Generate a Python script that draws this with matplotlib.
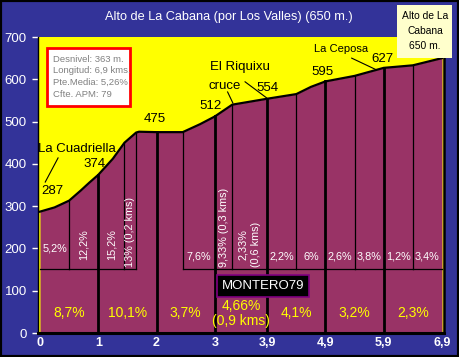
import numpy as np
import matplotlib.pyplot as plt
from matplotlib.patches import Rectangle

plt.rcParams['font.family'] = ['Liberation Sans', 'DejaVu Sans']

W, H = 459, 357

# perfil (km, m)
dist = [0, 0.25, 0.5, 0.7, 0.85, 1.0, 1.25, 1.45, 1.65, 1.7, 2.0, 2.45, 2.75, 3.0,
        3.3, 3.9, 4.4, 4.65, 4.9, 5.4, 5.9, 6.4, 6.9]
elev = [287, 297, 313, 337, 356, 374, 412, 450, 474, 476, 475, 475, 494, 512,
        540, 554, 565, 582, 595, 608, 627, 633, 650]

km_ticks = [0, 1, 2, 3, 3.9, 4.9, 5.9, 6.9]
km_labels = ['0', '1', '2', '3', '3,9', '4,9', '5,9', '6,9']

# pendiente media de cada km
tramo_pct = ['8,7%', '10,1%', '3,7%', '4,66%\n(0,9 kms)', '4,1%', '3,2%', '2,3%']

# subtramos
sub_edges = [0, 0.5, 1, 1.45, 1.65, 2, 2.45, 3, 3.3, 3.9, 4.4, 4.9, 5.4, 5.9, 6.4, 6.9]
sub_pct = ['5,2%', '12,2%', '15,2%', '13% (0,2 kms)', '', '', '7,6%',
           '9,33% (0,3 kms)', '2,33%\n(0,6 kms)', '2,2%', '6%', '2,6%', '3,8%',
           '1,2%', '3,4%']

cotas = [287, 374, 475, 512, 554, 595, 627]

info = ['Desnivel: 363 m.', 'Longitud: 6,9 kms.', 'Pte.Media: 5,26%', 'Cfte. APM: 79']
cima = ['Alto de La', 'Cabana', '650 m.']
titulo = 'Alto de La Cabana (por Los Valles) (650 m.)'

BLUE = '#333399'
PLUM = '#993366'
YELLOW = '#FFFF00'

fig = plt.figure(figsize=(W / 100, H / 100), dpi=100, facecolor=BLUE)
fig.patches.append(Rectangle((0, 0), 1, 1, transform=fig.transFigure, fill=False,
                             edgecolor='black', lw=3, zorder=10))

def px(x, y):
    return x / W, 1 - y / H

x0 = (38 - 40) / 58.26
x1 = (444 - 40) / 58.26
ax = fig.add_axes([38 / W, 1 - 333 / H, (444 - 38) / W, (333 - 37) / H])
ax.set_facecolor(YELLOW)
ax.set_xlim(x0, x1)
ax.set_ylim(0, 700)

ax.fill_between(dist, 0, elev, color=PLUM, lw=0, zorder=1)
ax.plot(dist, elev, color='black', lw=1.6, zorder=4)

# lineas de km
for k in km_ticks[1:-1]:
    ax.plot([k, k], [0, np.interp(k, dist, elev)], color='black', lw=2, zorder=3)

# subtramos
base = 152
for i, lab in enumerate(sub_pct):
    a, b = sub_edges[i], sub_edges[i + 1]
    if lab == '':
        continue
    ax.plot([a, b], [base, base], color='black', lw=0.9, zorder=3)
    mid = (a + b) / 2
    if len(lab) > 4:
        if '(' in lab and '\n' not in lab:
            ax.text(mid, base + 3, lab, rotation=90, ha='center', va='bottom',
                    color='white', fontsize=7.8, zorder=5)
        else:
            ax.text(mid, 210, lab, rotation=90, ha='center', va='center',
                    color='white', fontsize=7.8, multialignment='center',
                    linespacing=1.4, zorder=5)
    else:
        yy = 200 if i == 0 else 180
        ax.text(mid, yy, lab, ha='center', va='center', color='white',
                fontsize=7.8, zorder=5)
for e in sub_edges[1:-1]:
    if e in km_ticks:
        continue
    ax.plot([e, e], [base, np.interp(e, dist, elev)], color='black', lw=0.9, zorder=3)

# pendiente por km
for i, lab in enumerate(tramo_pct):
    mid = (km_ticks[i] + km_ticks[i + 1]) / 2
    ax.text(mid, 47, lab, ha='center', va='center', color=YELLOW, fontsize=10,
            linespacing=1.1, zorder=5)

# cotas
cota_pos = [(0.21, 335), (0.93, 400), (1.97, 506), (2.92, 538), (3.91, 579),
            (4.84, 618), (5.87, 649)]
for c, (xx, yy) in zip(cotas, cota_pos):
    ax.text(xx, yy, str(c), ha='center', va='center', fontsize=9.5, color='black',
            zorder=5)

# lugares
ax.text(0.63, 434, 'La Cuadriella', ha='center', va='center', fontsize=9.5, zorder=5)
ax.plot([0.31, 0.09], [414, 357], color='black', lw=0.8, zorder=5)
ax.text(3.44, 628, 'El Riquixu', ha='center', va='center', fontsize=9.5, zorder=5)
ax.plot([3.52, 3.89], [594, 556], color='black', lw=0.8, zorder=5)
ax.text(3.17, 585, 'cruce', ha='center', va='center', fontsize=9.5, zorder=5)
ax.plot([3.22, 3.31], [570, 544], color='black', lw=0.8, zorder=5)
ax.text(5.17, 672, 'La Ceposa', ha='center', va='center', fontsize=8, zorder=5)
ax.plot([5.35, 5.78], [650, 622], color='black', lw=0.8, zorder=5)

ax.text(3.83, 111, 'MONTERO79', ha='center', va='center', color='white',
        fontsize=9.5, zorder=6,
        bbox=dict(boxstyle='square,pad=0.35', fc='black', ec='#800080', lw=1.2))

# ejes
ax.set_xticks(km_ticks)
ax.set_xticklabels(km_labels, color='white', fontsize=9, fontweight='bold')
ax.tick_params(axis='x', length=0, pad=3)
ax.set_yticks(range(0, 701, 100))
ax.tick_params(axis='y', colors='white', labelsize=9.5, length=4, width=1, pad=4)
ax.spines['top'].set_visible(False)
ax.spines['bottom'].set_linewidth(2.2)
ax.spines['left'].set_linewidth(1)
ax.spines['right'].set_linewidth(1.8)
for s in ['bottom', 'left', 'right']:
    ax.spines[s].set_color('black')

# titulo
fig.text(*px(229, 17), titulo, ha='center', va='center', color='white', fontsize=9.2)

# recuadro de datos
fig.patches.append(Rectangle(px(47, 106), 83 / W, 58 / H, transform=fig.transFigure,
                             fc='white', ec='red', lw=2, zorder=8))
for i, t in enumerate(info):
    fig.text(*px(53, 59 + 11.7 * i), t, ha='left', va='center', color='#808080',
             fontsize=6.8, zorder=9)

# recuadro cima
fig.patches.append(Rectangle(px(397, 58), 55 / W, 53 / H, transform=fig.transFigure,
                             fc='#FFFFCC', ec='none', zorder=8))
for i, t in enumerate(cima):
    fig.text(*px(425, 16 + 15 * i), t, ha='center', va='center', color='black',
             fontsize=7.4, zorder=9)

fig.savefig('out.png', dpi=100, facecolor=BLUE)
